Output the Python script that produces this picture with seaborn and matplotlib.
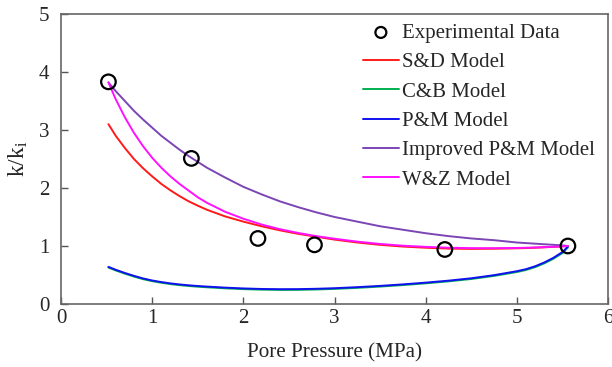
import matplotlib
matplotlib.use("Agg")
import matplotlib.pyplot as plt
import pandas as pd
import seaborn as sns

# Measured permeability ratio
exp_pressure = [0.52, 1.43, 2.16, 2.78, 4.21, 5.56]
exp_ratio = [3.83, 2.51, 1.13, 1.02, 0.94, 1.00]

# Model predictions, sampled along pore pressure (MPa)
model_pressure = [0.52, 0.6, 0.7, 0.8, 0.9, 1.0, 1.1, 1.2, 1.3, 1.4,
                  1.5, 1.6, 1.8, 2.0, 2.2, 2.4, 2.6, 2.8, 3.0, 3.25,
                  3.5, 3.75, 4.0, 4.25, 4.5, 4.75, 5.0, 5.1, 5.2, 5.3,
                  5.4, 5.5, 5.56]
sd_model = [3.10, 2.90, 2.69, 2.50, 2.34, 2.20, 2.07, 1.96, 1.86, 1.77,
            1.695, 1.625, 1.51, 1.42, 1.34, 1.27, 1.21, 1.16, 1.11, 1.06,
            1.02, 0.99, 0.97, 0.955, 0.95, 0.953, 0.96, 0.964, 0.97, 0.977,
            0.985, 0.994, 1.00]
pm_model = [0.64, 0.59, 0.535, 0.485, 0.44, 0.405, 0.378, 0.355, 0.337, 0.322,
            0.31, 0.30, 0.282, 0.268, 0.259, 0.255, 0.256, 0.262, 0.272, 0.29,
            0.312, 0.338, 0.368, 0.402, 0.443, 0.497, 0.565, 0.60, 0.65, 0.715,
            0.795, 0.895, 0.99]
cb_model = [0.628, 0.578, 0.523, 0.473, 0.428, 0.393, 0.366, 0.343, 0.325, 0.31,
            0.298, 0.288, 0.27, 0.256, 0.247, 0.243, 0.244, 0.25, 0.26, 0.278,
            0.30, 0.326, 0.356, 0.39, 0.431, 0.484, 0.551, 0.586, 0.635, 0.70,
            0.779, 0.878, 0.975]
improved_pm_model = [3.82, 3.67, 3.50, 3.33, 3.18, 3.04, 2.90, 2.78, 2.66, 2.55,
                     2.45, 2.35, 2.18, 2.02, 1.89, 1.77, 1.67, 1.58, 1.50, 1.42,
                     1.34, 1.28, 1.22, 1.17, 1.13, 1.10, 1.06, 1.05, 1.04, 1.03,
                     1.02, 1.01, 1.00]
wz_model = [3.82, 3.53, 3.22, 2.95, 2.72, 2.52, 2.35, 2.20, 2.07, 1.955,
            1.84, 1.745, 1.59, 1.47, 1.37, 1.29, 1.225, 1.17, 1.125, 1.075,
            1.035, 1.005, 0.985, 0.97, 0.963, 0.962, 0.966, 0.97, 0.974, 0.98,
            0.986, 0.994, 1.00]

x_ticks = [0, 1, 2, 3, 4, 5, 6]
y_ticks = [0, 1, 2, 3, 4, 5]

models = {
    "S&D Model": (sd_model, "#ff1a1a"),
    "C&B Model": (cb_model, "#00b050"),
    "P&M Model": (pm_model, "#1010ee"),
    "Improved P&M Model": (improved_pm_model, "#7b45b5"),
    "W&Z Model": (wz_model, "#ff10ff"),
}

sns.set_style("white")
plt.rcParams["font.family"] = ["Liberation Serif", "DejaVu Serif"]
plt.rcParams["mathtext.fontset"] = "custom"
plt.rcParams["mathtext.rm"] = "Liberation Serif"
plt.rcParams["mathtext.it"] = "Liberation Serif"

fig = plt.figure(figsize=(6.12, 3.67), dpi=100)
ax = fig.add_axes([0.0997, 0.1717, 0.8938, 0.7902])

for name, (vals, color) in models.items():
    df = pd.DataFrame({"pressure": model_pressure, "ratio": vals})
    sns.lineplot(data=df, x="pressure", y="ratio", color=color, lw=1.4,
                 label=name, ax=ax, sort=False)

exp_df = pd.DataFrame({"pressure": exp_pressure, "ratio": exp_ratio})
sns.scatterplot(data=exp_df, x="pressure", y="ratio", marker="o", s=110,
                facecolor="none", edgecolor="black", linewidth=1.6,
                label="Experimental Data", ax=ax, zorder=5)

ax.set_xlim(0, 6)
ax.set_ylim(0, 5)
ax.set_xticks(x_ticks)
ax.set_yticks(y_ticks)
ax.set_xlabel("Pore Pressure (MPa)", fontsize=15.2, labelpad=11)
ax.set_ylabel(r"k/k$_\mathregular{i}$", fontsize=17, labelpad=6)
ax.tick_params(axis="both", labelsize=15, direction="in", length=5,
               width=1, color="#555555", bottom=True, left=True,
               top=False, right=False)
ax.tick_params(axis="x", pad=3.5)
ax.tick_params(axis="y", pad=8.5)
for sp in ax.spines.values():
    sp.set_color("#666666")
    sp.set_linewidth(1.2)

handles, labels = ax.get_legend_handles_labels()
order = ["Experimental Data", "S&D Model", "C&B Model", "P&M Model",
         "Improved P&M Model", "W&Z Model"]
lookup = dict(zip(labels, handles))
leg = ax.legend([lookup[k] for k in order], order, loc="upper left",
                bbox_to_anchor=(0.548, 0.975), frameon=False, fontsize=15,
                handlelength=1.73, handletextpad=0.15, labelspacing=0.47,
                borderpad=0.1, borderaxespad=0.0, markerscale=0.75)

fig.savefig("out.png", dpi=100)
